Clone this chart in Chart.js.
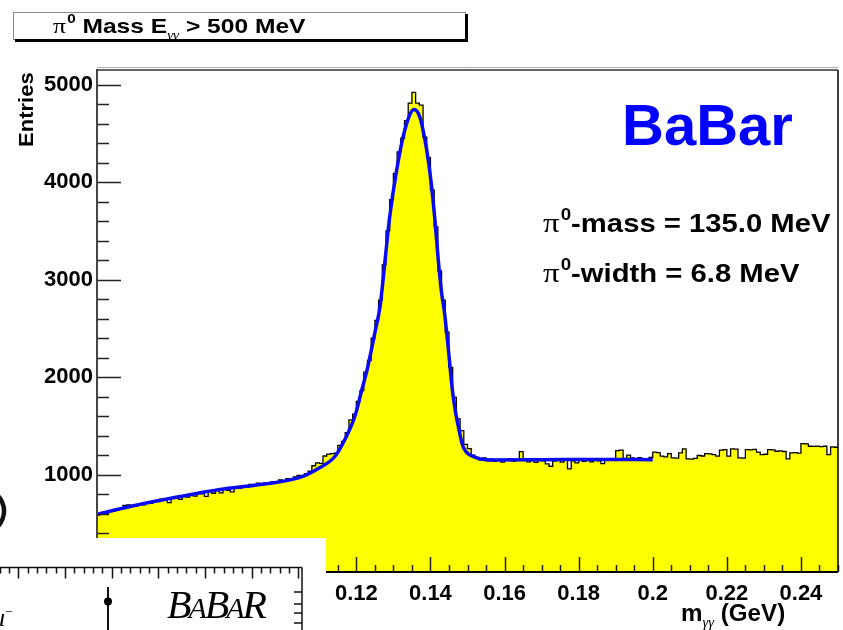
<!DOCTYPE html>
<html>
<head>
<meta charset="utf-8">
<script src="https://cdn.jsdelivr.net/npm/chart.js@4.4.1/dist/chart.umd.min.js"></script>
<style>
  html, body { margin: 0; padding: 0; background: #fff; }
  canvas { display: block; }
</style>
</head>
<body>
<canvas id="massChart" width="843" height="630"></canvas>
<script>
// gamma-gamma invariant mass histogram, 1 MeV bins from 0.05 GeV
const binLow = 0.05;
const binWidth = 0.001;
const entries = [
  600, 612, 598, 625, 622, 636, 645, 684, 688, 676,
  676, 695, 688, 712, 705, 728, 722, 748, 740, 712,
  760, 758, 745, 780, 768, 795, 778, 808, 802, 775,
  826, 808, 838, 812, 852, 838, 822, 870, 858, 880,
  868, 898, 886, 912, 896, 915, 900, 928, 920, 945,
  935, 958, 950, 975, 990, 978, 1010, 1035, 1090, 1120,
  1115, 1190, 1210, 1215, 1220, 1300, 1340, 1430, 1560, 1620,
  1750, 1860, 2050, 2170, 2400, 2580, 2790, 3150, 3500, 3820,
  4090, 4310, 4450, 4630, 4810, 4920, 4810, 4790, 4460, 4250,
  3920, 3540, 3090, 2790, 2460, 2100, 1790, 1570, 1450, 1310,
  1265, 1200, 1175, 1150, 1170, 1140, 1158, 1135, 1150, 1128,
  1145, 1160, 1138, 1148, 1235, 1150, 1130, 1142, 1125, 1155,
  1140, 1110, 1085, 1138, 1150, 1128, 1145, 1058, 1140, 1120,
  1150, 1135, 1160, 1130, 1148, 1140, 1112, 1155, 1145, 1162,
  1245, 1250, 1165, 1200, 1170, 1158, 1172, 1160, 1148, 1175,
  1229, 1225, 1188, 1182, 1215, 1171, 1168, 1222, 1263, 1161,
  1158, 1165, 1195, 1190, 1215, 1212, 1205, 1188, 1250, 1256,
  1188, 1263, 1260, 1171, 1168, 1256, 1252, 1258, 1229, 1205,
  1208, 1256, 1252, 1239, 1242, 1236, 1161, 1222, 1225, 1220,
  1318, 1315, 1290, 1288, 1292, 1286, 1290, 1205, 1284, 1280
];

// fitted signal + background curve
const fitMass = [0.050, 0.0589, 0.0724, 0.0832, 0.094, 0.1048, 0.1102, 0.1142, 0.1169, 0.1196,
  0.1215, 0.1231, 0.125, 0.1264, 0.128, 0.1289, 0.1309, 0.1331, 0.1356, 0.1372,
  0.1385, 0.1394, 0.1403, 0.1412, 0.1421, 0.143, 0.1437, 0.1448, 0.1459, 0.1468,
  0.1477, 0.1486, 0.1495, 0.1522, 0.156, 0.17, 0.185, 0.2];
const fitEntries = [590, 672, 774, 846, 897, 970, 1071, 1185, 1359, 1597,
  1872, 2108, 2456, 2726, 3290, 3615, 4128, 4538, 4744, 4660,
  4435, 4230, 3957, 3615, 3205, 2866, 2690, 2300, 1872, 1634,
  1462, 1308, 1239, 1174, 1150, 1152, 1155, 1152];

const xTicks = [0.06, 0.08, 0.1, 0.12, 0.14, 0.16, 0.18, 0.2, 0.22, 0.24];
const yTicks = [0, 1000, 2000, 3000, 4000, 5000];
const xMinorStep = 0.005;
const yMinorStep = 200;

const fitMassMeV = '135.0';
const fitWidthMeV = '6.8';

const histPoints = entries.map((n, i) => ({ x: binLow + i * binWidth, y: n }));
histPoints.push({ x: binLow + entries.length * binWidth, y: entries[entries.length - 1] });
const fitPoints = fitMass.map((m, i) => ({ x: m, y: fitEntries[i] }));

const SANS = '"Liberation Sans", Arial, sans-serif';
const SERIF = '"Liberation Serif", "Times New Roman", serif';

// draws a run of text pieces (super/subscripts) with a horizontal stretch
function textRun(ctx, parts, x, y, sx) {
  ctx.save();
  ctx.translate(x, y);
  ctx.scale(sx, 1);
  ctx.textAlign = 'left';
  ctx.textBaseline = 'alphabetic';
  let cx = 0;
  parts.forEach(p => {
    ctx.font = p.font;
    ctx.fillText(p.t, cx + (p.dx || 0), p.dy || 0);
    cx += ctx.measureText(p.t).width + (p.dx || 0);
  });
  ctx.restore();
}

function line(ctx, x1, y1, x2, y2) {
  ctx.beginPath();
  ctx.moveTo(x1, y1);
  ctx.lineTo(x2, y2);
  ctx.stroke();
}

// ROOT-style frame with inward ticks
const framePlugin = {
  id: 'frame',
  afterDatasetsDraw(chart) {
    const ctx = chart.ctx, a = chart.chartArea;
    const xs = chart.scales.x, ys = chart.scales.y;
    ctx.save();
    ctx.strokeStyle = '#222';
    ctx.lineWidth = 1.5;
    for (let v = 0; v <= ys.max; v += yMinorStep) {
      const py = Math.round(ys.getPixelForValue(v)) + 0.5;
      line(ctx, a.left, py, a.left + (v % 1000 === 0 ? 24 : 12), py);
    }
    const nx = Math.round((xs.max - xs.min) / xMinorStep);
    for (let i = 0; i <= nx; i++) {
      const v = xs.min + i * xMinorStep;
      const major = Math.abs(v / 0.02 - Math.round(v / 0.02)) < 1e-6;
      const px = Math.round(xs.getPixelForValue(v)) + 0.5;
      line(ctx, px, a.bottom, px, a.bottom - (major ? 15 : 7));
    }
    // axes and box
    ctx.strokeStyle = '#444';
    ctx.lineWidth = 2;
    line(ctx, a.left, a.top - 1, a.left, a.bottom);
    ctx.strokeStyle = '#000';
    line(ctx, a.left, a.bottom, a.right, a.bottom);
    ctx.lineWidth = 1.5;
    line(ctx, a.right, a.top, a.right, a.bottom);
    ctx.strokeStyle = '#aaa';
    ctx.lineWidth = 1;
    line(ctx, a.left, a.top - 2.5, a.right, a.top - 2.5);
    ctx.strokeStyle = '#333';
    ctx.lineWidth = 1.5;
    line(ctx, a.left, a.top, a.right, a.top);
    ctx.restore();
  }
};

const labelsPlugin = {
  id: 'labels',
  afterDraw(chart) {
    const ctx = chart.ctx;
    ctx.save();

    // title box with shadow
    ctx.fillStyle = '#fff';
    ctx.fillRect(13, 12, 452, 27);
    ctx.strokeStyle = '#888';
    ctx.lineWidth = 1;
    ctx.strokeRect(13.5, 12.5, 452, 27);
    ctx.fillStyle = '#000';
    ctx.fillRect(15, 39, 453, 3);
    ctx.fillRect(465, 14, 3, 28);
    textRun(ctx, [
      { t: 'π', font: '22px ' + SERIF },
      { t: '0', font: 'bold 13px ' + SANS, dy: -10, dx: 1 },
      { t: ' Mass E', font: 'bold 21px ' + SANS },
      { t: 'γγ', font: 'italic 13px ' + SERIF, dy: 6 },
      { t: ' > 500 MeV', font: 'bold 21px ' + SANS }
    ], 53, 33, 1.17);

    // y axis title
    ctx.save();
    ctx.translate(33, 147);
    ctx.rotate(-Math.PI / 2);
    textRun(ctx, [{ t: 'Entries', font: 'bold 21px ' + SANS }], 0, 0, 1.05);
    ctx.restore();

    // experiment label and fit results
    ctx.fillStyle = '#0000ff';
    textRun(ctx, [{ t: 'BaBar', font: 'bold 58px ' + SANS }], 622, 145, 1.0);
    ctx.fillStyle = '#000';
    textRun(ctx, [
      { t: 'π', font: '28px ' + SERIF },
      { t: '0', font: 'bold 16px ' + SANS, dy: -12, dx: 1 },
      { t: '-mass = ' + fitMassMeV + ' MeV', font: 'bold 25px ' + SANS }
    ], 543, 232, 1.17);
    textRun(ctx, [
      { t: 'π', font: '28px ' + SERIF },
      { t: '0', font: 'bold 16px ' + SANS, dy: -12, dx: 1 },
      { t: '-width = ' + fitWidthMeV + ' MeV', font: 'bold 25px ' + SANS }
    ], 543, 282, 1.17);

    // x axis title
    textRun(ctx, [
      { t: 'm', font: 'bold 23px ' + SANS },
      { t: 'γγ', font: 'italic 14px ' + SERIF, dy: 6 },
      { t: ' (GeV)', font: 'bold 23px ' + SANS }
    ], 681, 621, 1.05);

    // neighbouring panel that overlaps the lower left corner
    ctx.fillStyle = '#fff';
    ctx.fillRect(0, 538, 326, 92);
    ctx.strokeStyle = '#111';
    ctx.lineWidth = 1.5;
    line(ctx, 0, 567.5, 302, 567.5);
    line(ctx, 302, 567.5, 302, 630);
    for (let i = 0; i < 33; i++) {
      const px = Math.round(-0.4 + i * 9.33) + 0.5;
      line(ctx, px, 567.5, px, 567.5 + ((i - 2) % 5 === 0 ? 11 : 6));
    }
    [592, 604, 613, 623].forEach(py => line(ctx, 294, py, 302, py));
    ctx.lineWidth = 2;
    line(ctx, 108, 587, 108, 630);
    ctx.fillStyle = '#000';
    ctx.beginPath();
    ctx.arc(108, 601.5, 4, 0, Math.PI * 2);
    ctx.fill();
    textRun(ctx, [
      { t: 'B', font: 'italic 40px ' + SERIF },
      { t: 'A', font: 'italic 30px ' + SERIF, dx: -3 },
      { t: 'B', font: 'italic 40px ' + SERIF, dx: -2 },
      { t: 'A', font: 'italic 30px ' + SERIF, dx: -3 },
      { t: 'R', font: 'italic 40px ' + SERIF, dx: -2 }
    ], 167, 618, 1.0);
    textRun(ctx, [
      { t: 'μ', font: 'italic 26px ' + SERIF },
      { t: '−', font: '14px ' + SERIF, dy: -10 }
    ], -8, 626, 1.0);
    ctx.lineWidth = 4.5;
    ctx.beginPath();
    ctx.arc(-18, 511, 22, -1.2, 1.2);
    ctx.stroke();
    ctx.restore();
  }
};

const tickFont = { family: SANS, weight: 'bold', size: 22 };

new Chart(document.getElementById('massChart'), {
  type: 'line',
  data: {
    datasets: [
      {
        data: histPoints,
        stepped: true,
        borderColor: '#000',
        borderWidth: 1.3,
        backgroundColor: '#ffff00',
        fill: 'origin',
        pointRadius: 0,
        order: 2
      },
      {
        data: fitPoints,
        borderColor: '#0a0af5',
        borderWidth: 3.5,
        cubicInterpolationMode: 'monotone',
        fill: false,
        pointRadius: 0,
        order: 1
      }
    ]
  },
  options: {
    responsive: false,
    animation: false,
    layout: { padding: { top: 70, right: 5, left: 0, bottom: 0 } },
    plugins: { legend: { display: false }, tooltip: { enabled: false } },
    scales: {
      x: {
        type: 'linear',
        min: binLow,
        max: binLow + entries.length * binWidth,
        grid: { display: false, drawTicks: false },
        border: { display: false },
        afterBuildTicks: s => { s.ticks = xTicks.map(v => ({ value: v })); },
        afterFit: s => { s.height = 58; },
        ticks: { font: tickFont, color: '#000', padding: 9, maxRotation: 0, autoSkip: false, callback: v => String(v) }
      },
      y: {
        min: 0,
        max: 5150,
        grid: { display: false, drawTicks: false },
        border: { display: false },
        afterBuildTicks: s => { s.ticks = yTicks.map(v => ({ value: v })); },
        afterFit: s => { s.width = 97; },
        ticks: { font: tickFont, color: '#000', padding: 4, callback: v => String(v) }
      }
    }
  },
  plugins: [framePlugin, labelsPlugin]
});
</script>
</body>
</html>
